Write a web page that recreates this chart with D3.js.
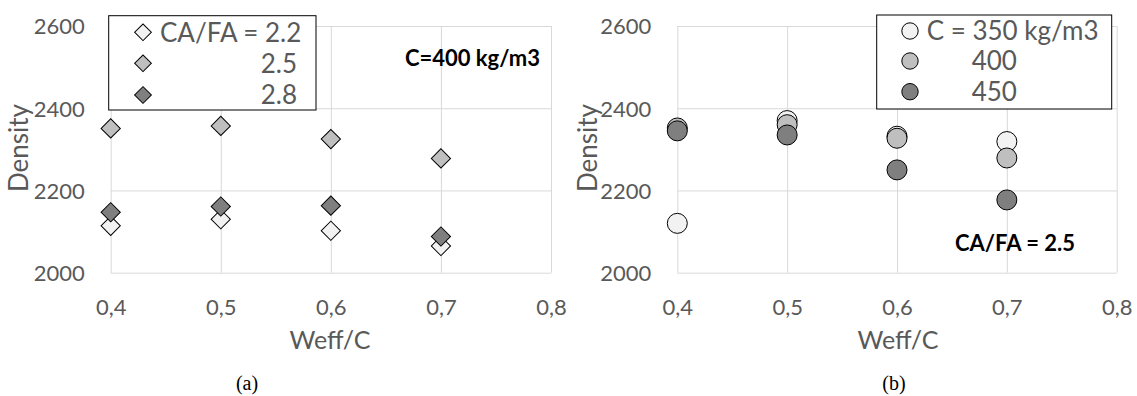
<!DOCTYPE html>
<html>
<head>
<meta charset="utf-8">
<script src="https://cdn.jsdelivr.net/npm/d3@7"></script>
<style>
  body { margin: 0; background: #fff; }
  svg { display: block; }
</style>
</head>
<body>
<svg id="chart" width="1137" height="396"></svg>
<script>
// x values (Weff/C) shared by both panels
const weffC = [0.4, 0.5, 0.6, 0.7];
const xTicks = [0.4, 0.5, 0.6, 0.7, 0.8];
const yTicks = [2000, 2200, 2400, 2600];

// panel (a): C = 400 kg/m3, series by CA/FA
const caFaLabels = ["CA/FA = 2.2", "2.5", "2.8"];
const densityCaFa22 = [2114, 2130, 2102, 2065];
const densityCaFa25 = [2351, 2357, 2325, 2278];
const densityCaFa28 = [2147, 2161, 2163, 2088];

// panel (b): CA/FA = 2.5, series by cement content
const cementLabels = ["C = 350 kg/m3", "400", "450"];
const densityC350 = [2120, 2370, 2332, 2319];
const densityC400 = [2352, 2360, 2327, 2279];
const densityC450 = [2345, 2335, 2250, 2177];

const fills = ["#f2f2f2", "#bfbfbf", "#7f7f7f"];
const textGrey = "#595959";
const gridGrey = "#d9d9d9";

const svg = d3.select("#chart");

function drawPanel(opts) {
    const g = svg.append("g");
    const x = d3.scaleLinear().domain([0.4, 0.8]).range([opts.left, opts.right]);
    const y = d3.scaleLinear().domain([2000, 2600]).range([272.7, 26]);

    // gridlines + tick labels from axes
    const yAxis = g.append("g")
        .attr("transform", `translate(${opts.left},0)`)
        .call(d3.axisLeft(y).tickValues(yTicks).tickSize(-(opts.right - opts.left))
            .tickPadding(26).tickFormat(d3.format("d")));
    const xAxis = g.append("g")
        .attr("transform", "translate(0,272.7)")
        .call(d3.axisBottom(x).tickValues(xTicks).tickSize(-(272.7 - 26))
            .tickFormat(d => d3.format(".1f")(d).replace(".", ",")));

    [yAxis, xAxis].forEach(a => {
        a.select(".domain").remove();
        a.selectAll(".tick line").attr("stroke", gridGrey).attr("stroke-width", 1);
        a.selectAll(".tick text")
            .attr("fill", textGrey)
            .style("font-family", "Lato, 'Open Sans', sans-serif")
            .style("font-size", "22px");
    });
    yAxis.selectAll(".tick text").attr("dy", "0.36em");
    xAxis.selectAll(".tick text").attr("y", 0).attr("dy", 0).attr("transform", "translate(0,42.3)");

    // axis titles
    g.append("text")
        .attr("transform", `translate(${opts.yTitleX},148) rotate(-90)`)
        .attr("text-anchor", "middle")
        .attr("dy", "0.36em")
        .attr("fill", textGrey)
        .style("font-family", "Lato, sans-serif")
        .style("font-size", "26px")
        .text("Density");
    g.append("text")
        .attr("x", opts.xTitleX).attr("y", 349.3)
        .attr("text-anchor", "middle")
        .attr("fill", textGrey)
        .style("font-family", "Lato, sans-serif")
        .style("font-size", "25px")
        .text("Weff/C");

    // panel caption
    g.append("text")
        .attr("x", opts.captionX).attr("y", 390)
        .attr("text-anchor", "middle")
        .attr("fill", "#000")
        .style("font-family", "'Liberation Serif', 'Times New Roman', serif")
        .style("font-size", "20px")
        .text(opts.caption);

    // points, later series on top
    opts.series.forEach((vals, i) => {
        const pts = weffC.map((w, j) => ({ x: w, y: vals[j] }));
        if (opts.marker === "diamond") {
            g.selectAll(null).data(pts).enter().append("path")
                .attr("d", d3.symbol(d3.symbolSquare, 185)())
                .attr("transform", d => `translate(${x(d.x)},${y(d.y)}) rotate(45)`)
                .attr("fill", fills[i]).attr("stroke", "#000").attr("stroke-width", 1);
        } else {
            g.selectAll(null).data(pts).enter().append("circle")
                .attr("cx", d => x(d.x)).attr("cy", d => y(d.y)).attr("r", 10)
                .attr("fill", fills[i]).attr("stroke", "#000").attr("stroke-width", 1);
        }
    });

    // bold annotation
    g.append("text")
        .attr("x", opts.note.x).attr("y", opts.note.y)
        .attr("text-anchor", "end")
        .attr("fill", "#000")
        .style("font-family", "Lato, sans-serif")
        .style("font-weight", "bold")
        .style("font-size", "22px")
        .text(opts.note.text);

    // legend
    const lg = opts.legend;
    g.append("rect")
        .attr("x", lg.x).attr("y", lg.y).attr("width", lg.w).attr("height", lg.h)
        .attr("fill", "#fff").attr("stroke", "#000").attr("stroke-width", 1);
    lg.labels.forEach((lab, i) => {
        const cy = lg.rows[i];
        if (opts.marker === "diamond") {
            g.append("path")
                .attr("d", d3.symbol(d3.symbolSquare, 140)())
                .attr("transform", `translate(${lg.markerX},${cy}) rotate(45)`)
                .attr("fill", fills[i]).attr("stroke", "#000");
        } else {
            g.append("circle")
                .attr("cx", lg.markerX).attr("cy", cy).attr("r", 8.2)
                .attr("fill", fills[i]).attr("stroke", "#000");
        }
        g.append("text")
            .attr("x", i === 0 ? lg.textX : lg.numX)
            .attr("y", cy).attr("dy", "0.36em")
            .attr("text-anchor", i === 0 ? "start" : lg.numAnchor)
            .attr("fill", textGrey)
            .style("font-family", "Lato, sans-serif")
            .style("font-size", "26px")
            .text(lab);
    });
}

drawPanel({
    left: 110.7, right: 551,
    yTitleX: 18.5, xTitleX: 330, captionX: 247, caption: "(a)",
    marker: "diamond",
    series: [densityCaFa22, densityCaFa25, densityCaFa28],
    note: { x: 540, y: 66, text: "C=400 kg/m3" },
    legend: { x: 108.7, y: 15.7, w: 207.3, h: 94.3, rows: [32.3, 63.3, 95],
              markerX: 143, textX: 160, numX: 297, numAnchor: "end", labels: caFaLabels }
});

drawPanel({
    left: 677.3, right: 1116.7,
    yTitleX: 587.5, xTitleX: 898, captionX: 894, caption: "(b)",
    marker: "circle",
    series: [densityC350, densityC400, densityC450],
    note: { x: 1075, y: 250.7, text: "CA/FA = 2.5" },
    legend: { x: 876.7, y: 15, w: 235, h: 94, rows: [31, 61, 91.7],
              markerX: 910, textX: 926.7, numX: 971.7, numAnchor: "start", labels: cementLabels }
});
</script>
</body>
</html>
